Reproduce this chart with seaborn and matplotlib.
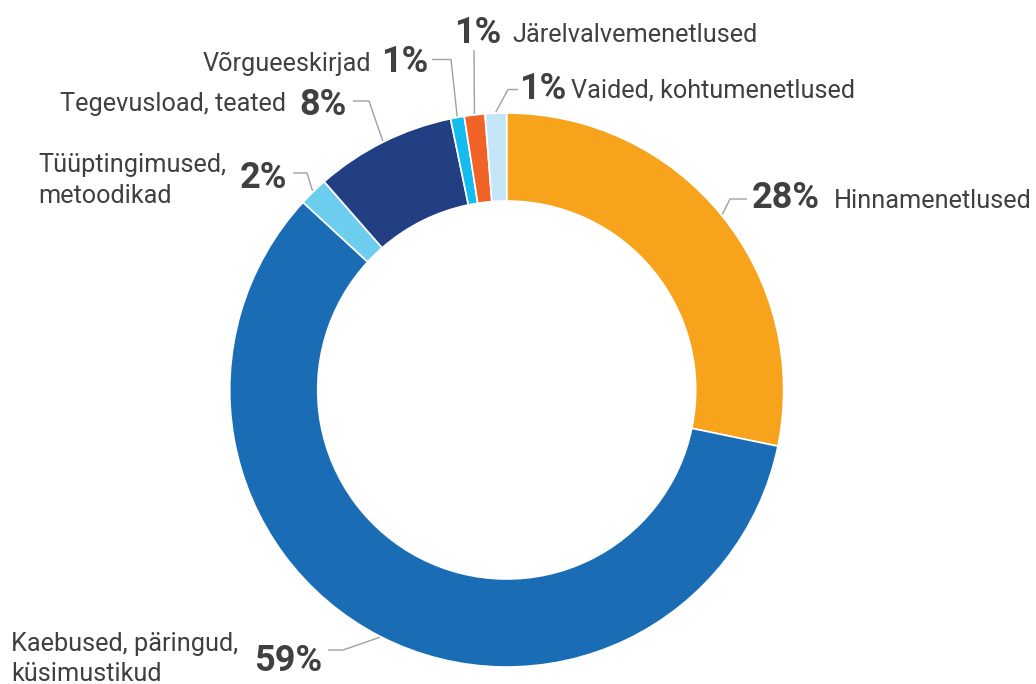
import numpy as np
import matplotlib
matplotlib.use("Agg")
import matplotlib.pyplot as plt
import seaborn as sns

# ---- data ----
categories = ["Hinnamenetlused", "Kaebused, päringud, küsimustikud",
              "Tüüptingimused, metoodikad", "Tegevusload, teated",
              "Võrgueeskirjad", "Järelvalvemenetlused", "Vaided, kohtumenetlused"]
values = [28.25, 58.6, 1.7, 8.2, 0.8, 1.2, 1.25]
pct_labels = ["28%", "59%", "2%", "8%", "1%", "1%", "1%"]
colors = ["#F7A31C", "#1A6DB5", "#6CCDEF", "#233F84", "#14BBEE", "#F06225", "#C4E6F8"]

W, H = 1036, 684
sns.set_theme(style="white")
plt.rcParams["font.family"] = ["Roboto", "DejaVu Sans"]

fig = plt.figure(figsize=(W / 100, H / 100), dpi=100)
ax = fig.add_axes([0, 0, 1, 1])

cx, cy, R, ring = 506.7, H - 390, 277, 88
palette = sns.color_palette(colors)
wedges, _ = ax.pie(values, colors=palette, startangle=90, counterclock=False,
                   center=(cx, cy), radius=R,
                   wedgeprops=dict(width=ring, edgecolor="white", linewidth=1.2))
ax.set_xlim(0, W)
ax.set_ylim(0, H)
ax.set_aspect("equal")
ax.axis("off")

def Y(y):
    return H - y

TXT = "#404040"
LINE = "#A0A0A0"
PCT_FS = 26
CAT_FS = 18.2

# layout per slice: leader elbow points (pixel), percent position, category lines
layout = [
    dict(path=[(730, 199), (747, 199)], pct=(752, 208.5, "left"),
         cat=[(834, 207.5, "left", "Hinnamenetlused")]),
    dict(path=[(343, 650), (328, 650)], pct=(254, 671, "left"),
         cat=[(11, 650.5, "left", "Kaebused, päringud,"), (11, 681, "left", "küsimustikud")]),
    dict(path=[(307, 173), (293, 173)], pct=(240, 188.5, "left"),
         cat=[(38, 171.7, "left", "Tüüptingimused,"), (38, 203.3, "left", "metoodikad")]),
    dict(path=[(369, 101), (353, 101)], pct=(299, 115, "left"),
         cat=[(286, 111, "right", "Tegevusload, teated")]),
    dict(path=[(451, 59.5), (432, 59.5)], pct=(381, 71.7, "left"),
         cat=[(371, 70.7, "right", "Võrgueeskirjad")]),
    dict(path=[(474, 50)], pct=(454, 43, "left"),
         cat=[(512, 41.7, "left", "Järelvalvemenetlused")]),
    dict(path=[(508, 89.5), (518, 89.5)], pct=(519, 99, "left"),
         cat=[(571, 97.5, "left", "Vaided, kohtumenetlused")]),
]

for w, lab, lay in zip(wedges, pct_labels, layout):
    mid = np.deg2rad((w.theta1 + w.theta2) / 2)
    sx, sy = cx + (R + 1) * np.cos(mid), cy + (R + 1) * np.sin(mid)
    xs = [sx] + [p[0] for p in lay["path"]]
    ys = [sy] + [Y(p[1]) for p in lay["path"]]
    ax.plot(xs, ys, color=LINE, lw=1.0, solid_capstyle="butt")
    px, py, pha = lay["pct"]
    ax.text(px, Y(py), lab, fontsize=PCT_FS, fontweight="bold", color=TXT,
            ha=pha, va="baseline")
    for (tx, ty, tha, tt) in lay["cat"]:
        ax.text(tx, Y(ty), tt, fontsize=CAT_FS, color=TXT, ha=tha, va="baseline")

fig.savefig("out.png", dpi=100, facecolor="white")
